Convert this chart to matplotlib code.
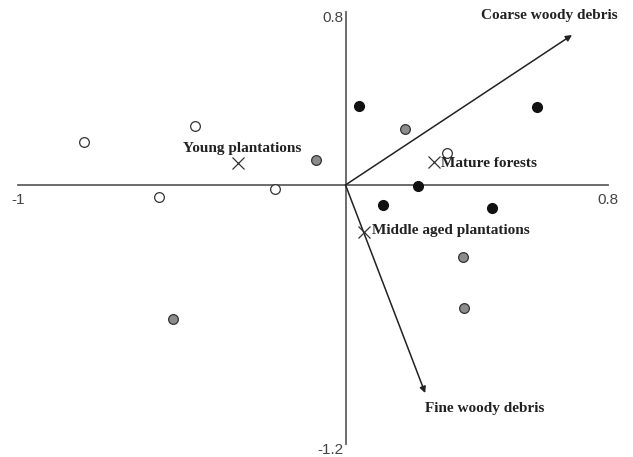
import matplotlib.pyplot as plt

# Site scores (ordination axes 1 and 2)
young_x = [-0.798, -0.459, -0.569, -0.215, 0.310]
young_y = [0.199, 0.273, -0.056, -0.019, 0.148]
middle_x = [-0.090, 0.182, 0.358, 0.361, -0.526]
middle_y = [0.116, 0.259, -0.333, -0.569, -0.620]
mature_x = [0.041, 0.584, 0.221, 0.114, 0.447]
mature_y = [0.366, 0.361, -0.005, -0.093, -0.106]

# Group centroids
centroid_names = ['Young plantations', 'Mature forests', 'Middle aged plantations']
centroid_x = [-0.328, 0.270, 0.056]
centroid_y = [0.102, 0.106, -0.218]

# Environmental vectors
vector_names = ['Coarse woody debris', 'Fine woody debris']
vector_x = [0.691, 0.243]
vector_y = [0.694, -0.963]

# Axis extents
x_min, x_max = -1, 0.8
y_min, y_max = -1.2, 0.8

fig = plt.figure(figsize=(6.33, 4.57), dpi=100)
ax = fig.add_axes([0, 0, 1, 1])
ax.set_xlim(-1.054, 0.877)
ax.set_ylim(-1.259, 0.856)
ax.axis('off')

axis_col = '#606060'
ax.plot([x_min, x_max], [0, 0], color=axis_col, lw=1.3, zorder=1)
ax.plot([0, 0], [y_min, y_max], color=axis_col, lw=1.3, zorder=1)

tick_kw = dict(fontsize=11, color='#444444', family='Liberation Sans')
ax.text(-0.005, 0.775, '0.8', ha='right', va='center', **tick_kw)
ax.text(-0.005, -1.228, '-1.2', ha='right', va='center', **tick_kw)
ax.text(x_min, -0.07, '-1', ha='center', va='center', **tick_kw)
ax.text(x_max, -0.07, '0.8', ha='center', va='center', **tick_kw)

mk = dict(linestyle='none', marker='o', markersize=7, markeredgewidth=0.9,
          markeredgecolor='#333333', zorder=3)
ax.plot(young_x, young_y, markerfacecolor='white', **mk)
ax.plot(middle_x, middle_y, markerfacecolor='#8c8c8c', **mk)
ax.plot(mature_x, mature_y, markerfacecolor='#111111', markeredgecolor='#111111',
        linestyle='none', marker='o', markersize=7, zorder=3)

ax.plot(centroid_x, centroid_y, linestyle='none', marker='x', markersize=8,
        markeredgewidth=0.9, color='#333333', zorder=3)

for vx, vy in zip(vector_x, vector_y):
    ax.annotate('', xy=(vx, vy), xytext=(0, 0),
                arrowprops=dict(arrowstyle='-|>', color='#222222', lw=1.1,
                                mutation_scale=9, shrinkA=0, shrinkB=0), zorder=2)

lab_kw = dict(fontsize=11, fontweight='bold', color='#222222', family='Liberation Serif')
ax.text(-0.315, 0.17, centroid_names[0], ha='center', va='center', **lab_kw)
ax.text(0.292, 0.098, centroid_names[1], ha='left', va='center', **lab_kw)
ax.text(0.080, -0.213, centroid_names[2], ha='left', va='center', **lab_kw)
ax.text(0.830, 0.785, vector_names[0], ha='right', va='center', **lab_kw)
ax.text(0.425, -1.033, vector_names[1], ha='center', va='center', **lab_kw)

fig.savefig('out.png', dpi=100)
